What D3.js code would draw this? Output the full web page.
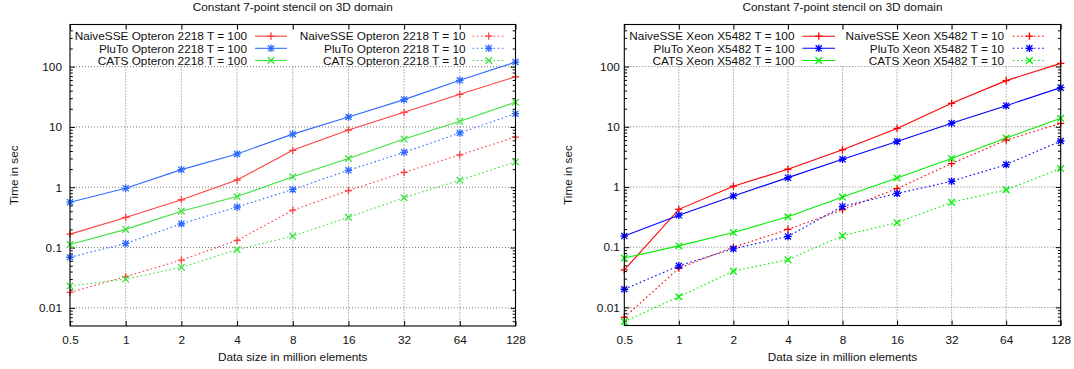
<!DOCTYPE html>
<html>
<head>
<meta charset="utf-8">
<script src="https://cdn.jsdelivr.net/npm/d3@7"></script>
<style>
  html, body { margin: 0; padding: 0; background: #fff; }
  svg { display: block; }
  text { font-family: "Liberation Sans", Arial, Helvetica, sans-serif; font-size: 11.8px; fill: #111; }
</style>
</head>
<body>
<svg id="chart" width="1074" height="369"></svg>
<script>
// ---------------- data ----------------
const sizes = ["0.5", "1", "2", "4", "8", "16", "32", "64", "128"];
const yMajorTicks = [0.01, 0.1, 1, 10, 100];
const yTickLabels = ["0.01", "0.1", "1", "10", "100"];

const chartTitle = "Constant 7-point stencil on 3D domain";
const xTitle = "Data size in million elements";
const yTitle = "Time in sec";

// Opteron 2218
const opteronNaive100 = [0.167, 0.316, 0.62, 1.32, 4.1, 8.9, 17.5, 34.8, 68];
const opteronPluto100 = [0.565, 0.96, 1.96, 3.56, 7.6, 14.6, 28.4, 59.3, 119];
const opteronCats100  = [0.112, 0.2, 0.40, 0.70, 1.49, 3.0, 6.3, 12.4, 25.6];
const opteronNaive10  = [0.018, 0.033, 0.062, 0.132, 0.417, 0.88, 1.77, 3.43, 6.8];
const opteronPluto10  = [0.069, 0.117, 0.248, 0.47, 0.92, 1.91, 3.8, 7.95, 16.6];
const opteronCats10   = [0.023, 0.030, 0.047, 0.092, 0.155, 0.318, 0.67, 1.31, 2.63];

// Xeon X5482
const xeonNaive100 = [0.042, 0.425, 1.03, 1.97, 4.14, 9.4, 24.5, 58.4, 113];
const xeonPluto100 = [0.153, 0.34, 0.71, 1.43, 2.89, 5.7, 11.4, 22.4, 44.7];
const xeonCats100  = [0.066, 0.105, 0.175, 0.32, 0.68, 1.41, 2.97, 6.5, 13.8];
const xeonNaive10  = [0.0068, 0.0447, 0.1, 0.197, 0.42, 0.94, 2.45, 6.0, 11.4];
const xeonPluto10  = [0.020, 0.049, 0.094, 0.151, 0.476, 0.78, 1.24, 2.36, 5.8];
const xeonCats10   = [0.0058, 0.015, 0.04, 0.062, 0.155, 0.255, 0.555, 0.90, 2.02];

// ---------------- layout ----------------
const yDomain = [0.005, 500];

const panels = [
  {
    machine: "Opteron 2218",
    left: 70, right: 515.5, top: 24.5, bottom: 326,
    yLabelPad: 8, yTitleX: 14,
    colors: { naive: "#ff3f3f", pluto: "#2f6cff", cats: "#3fe23f" },
    series: [
      { name: "NaiveSSE", T: 100, values: opteronNaive100, kind: "naive", marker: "plus", dotted: false },
      { name: "PluTo",    T: 100, values: opteronPluto100, kind: "pluto", marker: "star", dotted: false },
      { name: "CATS",     T: 100, values: opteronCats100,  kind: "cats",  marker: "cross", dotted: false },
      { name: "NaiveSSE", T: 10,  values: opteronNaive10,  kind: "naive", marker: "plus", dotted: true },
      { name: "PluTo",    T: 10,  values: opteronPluto10,  kind: "pluto", marker: "star", dotted: true },
      { name: "CATS",     T: 10,  values: opteronCats10,   kind: "cats",  marker: "cross", dotted: true }
    ],
    key: { col1Text: 247, col1S0: 255, col1S1: 287, col2Text: 465.6, col2S0: 472.5, col2S1: 505, rows: [36.2, 48.3, 60.5] }
  },
  {
    machine: "Xeon X5482",
    left: 624.3, right: 1060.7, top: 24.5, bottom: 325.5,
    yLabelPad: 4.5, yTitleX: 568,
    colors: { naive: "#ff0000", pluto: "#0000ff", cats: "#00f000" },
    series: [
      { name: "NaiveSSE", T: 100, values: xeonNaive100, kind: "naive", marker: "plus", dotted: false },
      { name: "PluTo",    T: 100, values: xeonPluto100, kind: "pluto", marker: "star", dotted: false },
      { name: "CATS",     T: 100, values: xeonCats100,  kind: "cats",  marker: "cross", dotted: false },
      { name: "NaiveSSE", T: 10,  values: xeonNaive10,  kind: "naive", marker: "plus", dotted: true },
      { name: "PluTo",    T: 10,  values: xeonPluto10,  kind: "pluto", marker: "star", dotted: true },
      { name: "CATS",     T: 10,  values: xeonCats10,   kind: "cats",  marker: "cross", dotted: true }
    ],
    key: { col1Text: 794.5, col1S0: 802.5, col1S1: 835, col2Text: 1004.2, col2S0: 1012.8, col2S1: 1046, rows: [36.2, 48.3, 60.5] }
  }
];

const markerPaths = {
  plus:  r => `M${-r},0H${r}M0,${-r}V${r}`,
  cross: r => `M${-r},${-r}L${r},${r}M${-r},${r}L${r},${-r}`,
  star:  r => `M${-r},0H${r}M0,${-r}V${r}M${-r*0.8},${-r*0.8}L${r*0.8},${r*0.8}M${-r*0.8},${r*0.8}L${r*0.8},${-r*0.8}`
};
const markerSize = { plus: 3.6, cross: 3.3, star: 3.8 };
const dotDash = "1.6,2.6";

const svg = d3.select("#chart");

panels.forEach(p => {
  const g = svg.append("g");
  const x = d3.scalePoint().domain(sizes).range([p.left, p.right]).padding(0);
  const y = d3.scaleLog().domain(yDomain).range([p.bottom, p.top]);

  // minor ticks
  const allTicks = y.ticks();
  const minorTicks = allTicks.filter(v => {
    const l = Math.log10(v);
    return Math.abs(l - Math.round(l)) > 1e-6 && v > yDomain[0] && v < yDomain[1];
  });

  // grid
  const grid = g.append("g").attr("stroke", "#555").attr("stroke-width", 0.8)
    .attr("stroke-dasharray", "1,2").attr("fill", "none");
  grid.selectAll("line.h").data(yMajorTicks).join("line")
    .attr("x1", p.left).attr("x2", p.right)
    .attr("y1", d => y(d)).attr("y2", d => y(d));
  grid.selectAll("line.v").data(sizes.slice(1, -1)).join("line")
    .attr("x1", d => x(d)).attr("x2", d => x(d))
    .attr("y1", p.top).attr("y2", p.bottom);

  // axes (gnuplot-style inward ticks, mirrored)
  const axisStyle = sel => {
    sel.select(".domain").remove();
    sel.selectAll(".tick line").attr("stroke", "#000").attr("stroke-width", 1);
  };
  const fmtY = d => yTickLabels[yMajorTicks.indexOf(d)];

  g.append("g").attr("transform", `translate(${p.left},0)`)
    .call(d3.axisLeft(y).tickValues(yMajorTicks).tickFormat(fmtY).tickSize(-5).tickPadding(p.yLabelPad))
    .call(axisStyle)
    .call(s => s.selectAll("text").attr("font-family", null).attr("font-size", null).attr("fill", "#111"));
  g.append("g").attr("transform", `translate(${p.left},0)`)
    .call(d3.axisLeft(y).tickValues(minorTicks).tickFormat("").tickSize(-2.8))
    .call(axisStyle);
  g.append("g").attr("transform", `translate(${p.right},0)`)
    .call(d3.axisRight(y).tickValues(yMajorTicks).tickFormat("").tickSize(-5))
    .call(axisStyle);
  g.append("g").attr("transform", `translate(${p.right},0)`)
    .call(d3.axisRight(y).tickValues(minorTicks).tickFormat("").tickSize(-2.8))
    .call(axisStyle);
  g.append("g").attr("transform", `translate(0,${p.bottom})`)
    .call(d3.axisBottom(x).tickSize(-5).tickPadding(10))
    .call(axisStyle)
    .call(s => s.selectAll("text").attr("font-family", null).attr("font-size", null).attr("fill", "#111"));
  g.append("g").attr("transform", `translate(0,${p.top})`)
    .call(d3.axisTop(x).tickFormat("").tickSize(-5))
    .call(axisStyle);

  // key background (opaque)
  g.append("rect")
    .attr("x", p.left + 4).attr("y", p.top + 6)
    .attr("width", p.key.col2S1 - p.left + 2).attr("height", y(100) - p.top - 7.5)
    .attr("fill", "#fff");

  // series
  const line = d3.line().x((d, i) => x(sizes[i])).y(d => y(d));
  p.series.forEach(s => {
    const col = p.colors[s.kind];
    g.append("path").datum(s.values)
      .attr("d", line).attr("fill", "none").attr("stroke", col).attr("stroke-width", 1.1)
      .attr("stroke-dasharray", s.dotted ? dotDash : null);
    g.append("g").selectAll("path").data(s.values).join("path")
      .attr("transform", (d, i) => `translate(${x(sizes[i])},${y(d)})`)
      .attr("d", markerPaths[s.marker](markerSize[s.marker]))
      .attr("fill", "none").attr("stroke", col).attr("stroke-width", 1.3);
  });

  // frame
  g.append("rect").attr("x", p.left).attr("y", p.top)
    .attr("width", p.right - p.left).attr("height", p.bottom - p.top)
    .attr("fill", "none").attr("stroke", "#000").attr("stroke-width", 1.1);

  // key
  p.series.forEach((s, i) => {
    const col = p.colors[s.kind];
    const c2 = i >= 3;
    const ry = p.key.rows[i % 3];
    const tx = c2 ? p.key.col2Text : p.key.col1Text;
    const s0 = c2 ? p.key.col2S0 : p.key.col1S0;
    const s1 = c2 ? p.key.col2S1 : p.key.col1S1;
    g.append("text").attr("x", tx).attr("y", ry + 4.2).attr("text-anchor", "end")
      .text(`${s.name} ${p.machine} T = ${s.T}`);
    g.append("line").attr("x1", s0).attr("x2", s1).attr("y1", ry).attr("y2", ry)
      .attr("stroke", col).attr("stroke-width", 1.1).attr("stroke-dasharray", s.dotted ? dotDash : null);
    g.append("path").attr("transform", `translate(${(s0 + s1) / 2},${ry})`)
      .attr("d", markerPaths[s.marker](markerSize[s.marker]))
      .attr("fill", "none").attr("stroke", col).attr("stroke-width", 1.3);
  });

  // titles
  const cx = (p.left + p.right) / 2;
  g.append("text").attr("x", cx).attr("y", 11).attr("text-anchor", "middle").text(chartTitle);
  g.append("text").attr("x", cx).attr("y", 360.5).attr("text-anchor", "middle").text(xTitle);
  g.append("text").attr("transform", `translate(${p.yTitleX + 4},${(p.top + p.bottom) / 2}) rotate(-90)`)
    .attr("text-anchor", "middle").text(yTitle);
});
</script>
</body>
</html>
